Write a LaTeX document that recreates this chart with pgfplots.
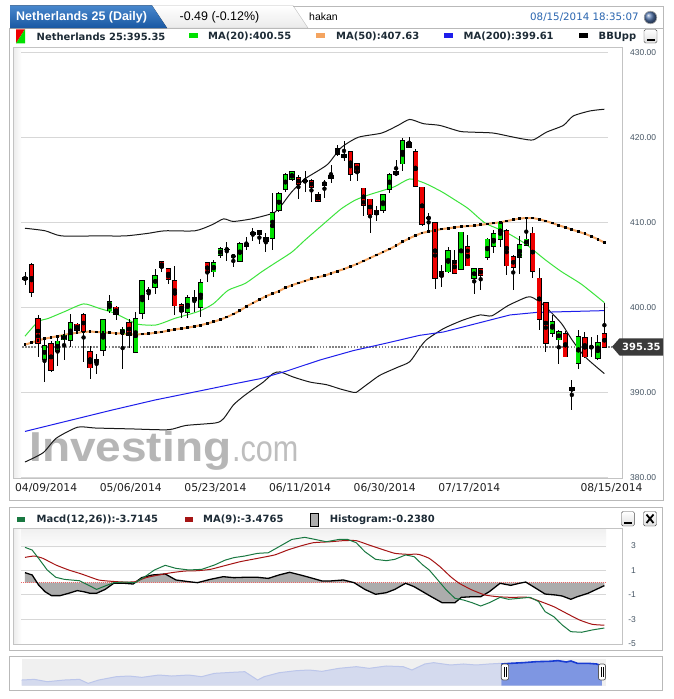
\documentclass[border=0pt]{standalone}
\usepackage{fontspec}
\setmainfont{DejaVu Sans}
\newfontfamily\lib{Liberation Sans}
\usepackage{pgfplots}
\usepackage{pgfplotstable}
\pgfplotsset{compat=1.18}
\definecolor{cgreen}{RGB}{0,225,0}
\definecolor{cred}{RGB}{238,0,0}
\definecolor{ma20}{RGB}{60,228,60}
\definecolor{ma50}{RGB}{244,164,96}
\definecolor{ma200}{RGB}{30,30,235}
\definecolor{bbc}{RGB}{25,25,25}
\definecolor{gridc}{RGB}{215,215,215}
\definecolor{framec}{RGB}{195,195,195}
\definecolor{panelc}{RGB}{185,185,185}
\definecolor{lbl}{RGB}{29,43,54}
\definecolor{tickc}{RGB}{70,85,100}
\definecolor{tabT}{RGB}{72,135,205}
\definecolor{tabB}{RGB}{25,88,162}
\definecolor{timec}{RGB}{40,100,175}
\definecolor{tagc}{RGB}{58,58,58}
\definecolor{dotc}{RGB}{130,130,130}
\definecolor{wm}{RGB}{182,182,182}
\definecolor{wmb}{RGB}{190,190,190}
\definecolor{macdc}{RGB}{25,120,65}
\definecolor{sigc}{RGB}{165,20,20}
\definecolor{histc}{RGB}{172,172,172}
\definecolor{zeroc}{RGB}{235,100,100}
\definecolor{navbg}{RGB}{240,240,240}
\definecolor{navfill}{RGB}{212,218,238}
\definecolor{navline}{RGB}{188,198,234}
\definecolor{selfill}{RGB}{126,150,226}
\definecolor{selline}{RGB}{25,60,210}
\definecolor{globe}{RGB}{80,115,170}

\pgfplotstableread{
i o h l c
0 403.3 404.1 402.6 403.5
1 405.0 405.2 401.2 401.8
2 398.6 399.1 394.1 395.8
3 393.9 396.2 391.2 395.5
4 395.7 396.0 392.4 392.6
5 394.8 396.5 393.1 396.0
6 396.2 397.3 393.8 396.7
7 396.1 399.2 395.3 398.2
8 398.0 398.2 396.9 397.3
9 399.1 399.3 393.6 397.2
10 394.8 395.5 391.6 392.9
11 393.5 394.5 392.2 393.8
12 395.0 398.6 394.3 398.5
13 399.6 401.4 399.3 400.6
14 400.0 400.2 398.5 399.2
15 396.9 397.7 392.7 397.4
16 398.2 398.6 395.2 396.7
17 394.7 399.4 394.7 398.6
18 399.3 403.1 398.6 403.1
19 401.9 402.4 400.9 401.9
20 402.4 404.5 401.6 403.7
21 405.3 405.4 404.1 404.7
22 404.5 404.5 402.8 403.3
23 403.1 404.9 399.1 400.2
24 400.3 400.5 398.7 399.5
25 399.4 401.4 398.7 401.1
26 401.1 402.0 399.5 400.8
27 400.0 403.3 398.9 402.9
28 405.2 405.2 403.0 404.1
29 404.2 405.6 403.6 405.2
30 406.1 407.1 405.8 406.9
31 406.8 407.7 405.5 406.8
32 406.0 406.2 404.7 406.0
33 405.4 407.7 405.4 407.5
34 407.5 408.3 406.7 407.2
35 408.6 409.3 407.8 408.8
36 409.0 409.0 407.4 408.6
37 407.8 408.8 406.5 408.2
38 408.1 413.4 406.7 411.1
39 411.4 413.6 411.2 413.3
40 413.9 415.8 413.6 415.6
41 415.1 416.0 414.8 415.9
42 415.2 415.6 412.7 414.5
43 414.9 416.0 413.6 414.9
44 414.9 415.1 412.4 414.1
45 413.2 413.6 412.4 412.5
46 414.4 415.0 412.9 414.7
47 415.2 416.7 414.6 415.5
48 418.6 419.1 417.8 418.0
49 417.6 419.6 417.2 418.0
50 418.3 418.3 414.9 415.7
51 416.9 417.0 414.8 415.9
52 414.0 414.0 410.7 412.0
53 412.7 412.7 408.7 410.9
54 411.4 411.9 410.2 410.9
55 411.4 413.2 411.1 413.2
56 413.9 415.8 413.5 415.6
57 415.6 417.3 415.4 415.9
58 416.9 419.9 416.0 419.6
59 419.4 420.0 418.7 418.8
60 418.3 418.6 414.2 414.3
61 414.1 414.2 409.6 409.8
62 410.5 411.1 408.9 410.5
63 409.9 410.0 402.2 403.4
64 404.2 405.0 402.4 403.6
65 404.2 407.1 404.0 406.6
66 405.5 406.7 403.9 404.0
67 404.5 408.8 404.4 408.8
68 407.1 408.5 404.8 404.9
69 403.4 404.5 401.6 404.5
70 404.5 404.6 402.0 403.8
71 405.9 408.1 405.6 408.0
72 407.2 409.1 406.4 408.6
73 408.0 410.2 407.1 410.0
74 409.0 409.2 403.8 404.9
75 405.9 406.2 402.0 404.7
76 405.9 408.4 403.9 407.3
77 407.3 410.6 407.2 408.0
78 408.7 409.5 403.5 404.3
79 403.4 404.6 397.3 398.6
80 400.5 400.5 394.7 395.8
81 397.0 399.1 396.5 398.3
82 396.2 397.3 393.3 397.1
83 396.9 397.2 394.1 394.2
84 390.5 391.5 387.9 390.2
85 393.4 397.3 392.8 396.5
86 396.4 397.1 394.0 394.2
87 395.3 396.5 394.2 395.3
88 394.0 396.7 393.8 395.8
89 396.9 400.5 395.3 395.35
}\candles

\begin{document}
\begin{tikzpicture}
\fill[white] (0,0) rectangle (674bp,-699bp);
\begin{scope}[x=1bp,y=-1bp]
% ---------- header ----------
\draw[draw=panelc, top color=white, bottom color=gray!16] (150,5.5) -- (293,5.5) -- (308,28) -- (165,28) -- cycle;
\draw[panelc, line width=0.8bp] (293,6) -- (663,6) -- (663,28);
\draw[panelc, line width=0.8bp] (9.5,28) rectangle (663,500);
\fill[top color=tabT, bottom color=tabB] (10,28) -- (10,5.5) -- (152,5.5) -- (167,28) -- cycle;
\node[anchor=west, inner sep=0, text=white, font=\lib\bfseries\fontsize{12.5}{14}\selectfont] at (16,17) {Netherlands 25 (Daily)};
\node[anchor=west, inner sep=0, text=black, font=\lib\fontsize{12.5}{14}\selectfont] at (179.5,17) {-0.49 (-0.12\%)};
\node[anchor=west, inner sep=0, text=black, font=\lib\fontsize{10.5}{12}\selectfont] at (309,17) {hakan};
\node[anchor=west, inner sep=0, text=timec, font=\fontsize{10.3}{12}\selectfont] at (530,17) {08/15/2014 18:35:07};
\shade[ball color=globe] (650.5,17.5) circle (6.3);
\draw[gray!70, line width=0.6bp] (650.5,17.5) circle (6.3);
% ---------- legend row ----------
\fill[cred] (16,29.3) -- (25,29.3) -- (16,43.3) -- cycle;
\fill[cgreen] (25,29.3) -- (25,43.3) -- (16,43.3) -- cycle;
\node[anchor=west, inner sep=0, text=lbl, font=\bfseries\fontsize{10}{12}\selectfont] at (36.5,36.5) {Netherlands 25:395.35};
\fill[cgreen] (189,33.3) rectangle (197.5,37.8);
\node[anchor=west, inner sep=0, text=lbl, font=\bfseries\fontsize{10}{12}\selectfont] at (208,36.5) {MA(20):400.55};
\fill[ma50] (316,33.3) rectangle (324.5,37.8);
\node[anchor=west, inner sep=0, text=lbl, font=\bfseries\fontsize{10}{12}\selectfont] at (336,36.5) {MA(50):407.63};
\fill[ma200] (444,33.3) rectangle (452.5,37.8);
\node[anchor=west, inner sep=0, text=lbl, font=\bfseries\fontsize{10}{12}\selectfont] at (463.5,36.5) {MA(200):399.61};
\fill[black] (579,33.3) rectangle (587.5,37.8);
\node[anchor=west, inner sep=0, text=lbl, font=\bfseries\fontsize{10}{12}\selectfont] at (598.5,36.5) {BBUpp};
\draw[gray!60!black, top color=white, bottom color=gray!25, rounded corners=1.5bp] (644,29.5) rectangle (657,43);
\fill[black] (646.5,38.8) rectangle (654.5,41);
% ---------- main plot background ----------
\fill[white] (13,47) rectangle (622,478);
\shade[left color=gray!15, right color=white] (13.4,47.4) rectangle (21.5,477.6);
\node[anchor=base west, inner sep=0, text=wm, font=\lib\bfseries\fontsize{42}{42}\selectfont, xscale=1.1] at (29,461.7) {Investing};
\node[anchor=base west, inner sep=0, text=wmb, font=\lib\fontsize{37}{37}\selectfont, xscale=0.83] at (232,461.7) {.com};
% ---------- MACD panel ----------
\draw[panelc, line width=0.8bp] (9.5,507.3) rectangle (662,650.7);
\fill[macdc] (17,517.3) rectangle (25,521.5);
\node[anchor=west, inner sep=0, text=lbl, font=\bfseries\fontsize{10}{12}\selectfont] at (36.5,519.5) {Macd(12,26)):-3.7145};
\fill[sigc] (184.5,517.3) rectangle (192.5,521.5);
\node[anchor=west, inner sep=0, text=lbl, font=\bfseries\fontsize{10}{12}\selectfont] at (203,519.5) {MA(9):-3.4765};
\draw[black, fill=histc, line width=0.8bp] (310.5,513) rectangle (318.5,526);
\node[anchor=west, inner sep=0, text=lbl, font=\bfseries\fontsize{10}{12}\selectfont] at (329.6,519.5) {Histogram:-0.2380};
\draw[gray!60!black, top color=white, bottom color=gray!25, rounded corners=1.5bp] (621.5,511.5) rectangle (634.3,526);
\fill[black] (624,521.8) rectangle (632,524);
\draw[gray!60!black, top color=white, bottom color=gray!25, rounded corners=1.5bp] (643.5,511.5) rectangle (656.5,526);
\draw[black, line width=1.8bp] (646.5,514.5) -- (653.5,523) (653.5,514.5) -- (646.5,523);
\fill[white] (13,528.3) rectangle (621.5,644);
\shade[left color=gray!15, right color=white] (13.4,528.7) rectangle (21.5,643.6);
\shade[top color=gray!12, bottom color=white] (21.5,528.7) rectangle (606,550);
% ---------- navigator panel ----------
\draw[panelc, line width=0.8bp] (9.5,656) rectangle (662,690.7);
\fill[navbg] (21.5,659.3) rectangle (606,685.7);
\end{scope}

% ================= MAIN AXIS =================
\begin{axis}[at={(13bp,-478bp)}, anchor=south west, scale only axis,
  width=609bp, height=431bp,
  xmin=-1.843, xmax=91.705, ymin=379.92, ymax=430.62,
  axis line style={draw=framec, line width=0.8bp},
  major tick length=0pt, tick style={draw=none},
  xtick={3.25,16.25,29.25,42.25,55.25,68.25,90.1},
  xticklabels={04/09/2014,05/06/2014,05/23/2014,06/11/2014,06/30/2014,07/17/2014,08/15/2014},
  xticklabel style={inner sep=0pt, anchor=north, yshift=-5bp, text=black!88, font=\fontsize{10.8}{12}\selectfont},
  ytick={380,390,400,410,420,430},
  yticklabels={380.00,390.00,400.00,410.00,420.00,430.00},
  yticklabel pos=right,
  yticklabel style={inner sep=0pt, anchor=west, xshift=8bp, text=tickc, font=\lib\fontsize{8.5}{10}\selectfont},
]
\draw[gridc, line width=0.9bp] (axis cs:-0.54,380) -- (axis cs:89.55,380);
\draw[gridc, line width=0.9bp] (axis cs:-0.54,390) -- (axis cs:89.55,390);
\draw[gridc, line width=0.9bp] (axis cs:-0.54,400) -- (axis cs:89.55,400);
\draw[gridc, line width=0.9bp] (axis cs:-0.54,410) -- (axis cs:89.55,410);
\draw[gridc, line width=0.9bp] (axis cs:-0.54,420) -- (axis cs:89.55,420);
\draw[gridc, line width=0.9bp] (axis cs:-0.54,430) -- (axis cs:89.55,430);
% last price dotted line
\addplot[dotc, line width=1.6bp, dash pattern=on 1.6bp off 1.5bp] coordinates {(-0.46,395.35) (90.2,395.35)};
% Bollinger upper
\addplot[bbc, line width=1bp, smooth, tension=0.4] coordinates {
(0,409.3) (3.1,409.0) (5.6,408.4) (11.3,408.4) (15.4,408.4) (18.9,408.7) (21.5,409.0) (26.1,409.0) (28.7,409.7) (30.5,410.4) (32.0,410.1) (34.8,410.4) (37.4,410.9) (38.4,411.2) (39.4,412.0) (41.0,413.6) (43.0,415.1) (45.1,416.1) (46.6,416.9) (48.6,418.8) (51.2,420.0) (54.8,420.5) (57.3,421.4) (59.1,422.1) (61.2,421.6) (63.7,421.4) (66.8,420.7) (68.9,420.6) (71.9,420.5) (74.5,420.1) (76.5,419.8) (78.1,419.7) (80.1,420.6) (82.7,421.4) (84.2,422.5) (86.8,423.1) (89,423.3)};
% Bollinger lower
\addplot[bbc, line width=1bp, smooth, tension=0.4] coordinates {
(0,381.8) (2.8,382.9) (4.8,384.6) (8.1,385.9) (10.8,385.8) (16.1,385.7) (22.0,385.6) (24.7,386.1) (29.3,386.4) (30.5,386.9) (32.0,388.5) (33.5,389.5) (35.1,390.4) (36.6,391.2) (38.1,392.2) (39.2,392.4) (41.2,391.8) (43.8,391.2) (46.3,390.9) (48.4,390.4) (50.4,390.0) (50.9,390.0) (52.5,390.9) (54.5,392.0) (57.1,392.9) (59.1,393.6) (60.6,395.2) (61.7,396.2) (64.3,397.5) (67.3,398.5) (69.9,399.1) (71.7,399.0) (74.2,400.2) (77.1,401.2) (78.1,401.1) (79.9,400.1) (82.4,398.1) (84.0,396.2) (86.0,394.2) (89,392.2)};
% MA(200)
\addplot[ma200, line width=1bp] coordinates {
(0,385.4) (13.3,387.9) (20,389.1) (29,390.5) (31.5,390.9) (36.1,391.6) (40.2,392.5) (45.3,393.8) (50.4,394.9) (55.6,395.8) (60.6,396.7) (64.3,397.1) (69.4,398.1) (74.5,399.1) (78.6,399.4) (89,399.61)};
% MA(20)
\addplot[ma20, line width=1bp, smooth, tension=0.4] coordinates {
(0,396.6) (2,398.3) (3.6,398.7) (6.1,399.5) (9,400.4) (11.3,399.9) (13.8,399.3) (15.9,398.5) (17.4,398.0) (20,397.9) (22,398.4) (23,398.7) (26.6,399.5) (28.9,400.4) (31.2,402.0) (33.8,402.8) (36.4,404.2) (38.4,405.2) (41,406.5) (43,407.9) (45.1,409.3) (46.6,410.3) (48.6,411.6) (50.7,412.6) (52.7,413.2) (54.8,413.7) (56.8,414.2) (59.1,415.1) (61.4,414.6) (64,413.6) (66.1,412.6) (68.1,411.6) (70.7,409.9) (73.7,408.9) (76.8,407.5) (79.9,405.6) (82.4,404.2) (85.5,402.7) (89,400.55)};
% MA(50)
\addplot[ma50, line width=2bp, mark=square*, mark size=0.85bp, mark options={fill=black, draw=black, line width=0pt}] coordinates {
(0,395.6) (1,395.85) (2,396.1) (3,396.3) (4,396.45) (5,396.6) (6,396.75) (7,396.9) (8,397.0) (9,397.1)
(10,397.15) (11,397.1) (12,397.05) (13,397.0) (14,396.95) (15,396.9) (16,396.85) (17,396.8) (18,396.85) (19,396.9)
(20,397.0) (21,397.1) (22,397.25) (23,397.4) (24,397.5) (25,397.6) (26,397.75) (27,397.9) (28,398.1) (29,398.3)
(30,398.55) (31,398.85) (32,399.2) (33,399.6) (34,400.1) (35,400.5) (36,400.9) (37,401.3) (38,401.6) (39,401.9)
(40,402.3) (41,402.6) (42,402.85) (43,403.1) (44,403.35) (45,403.55) (46,403.7) (47,404.0) (48,404.25) (49,404.5)
(50,404.8) (51,405.1) (52,405.45) (53,405.8) (54,406.15) (55,406.5) (56,406.85) (57,407.25) (58,407.7) (59,408.1)
(60,408.45) (61,408.75) (62,408.9) (63,409.05) (64,409.2) (65,409.3) (66,409.4) (67,409.5) (68,409.55) (69,409.6)
(70,409.7) (71,409.8) (72,409.9) (73,410.0) (74,410.15) (75,410.3) (76,410.45) (77,410.5) (78,410.5) (79,410.35)
(80,410.15) (81,409.9) (82,409.65) (83,409.4) (84,409.15) (85,408.9) (86,408.65) (87,408.35) (88,408.0) (89,407.63)};
% candles: wicks
\addplot[only marks, mark=none, forget plot, error bars/.cd, y dir=both, y explicit, error mark=none,
  error bar style={draw=black, line width=0.8bp, solid}]
  table[x=i, y expr={(\thisrow{h}+\thisrow{l})/2}, y error expr={(\thisrow{h}-\thisrow{l})/2}] {\candles};
% body outlines
\addplot[only marks, mark=none, forget plot, error bars/.cd, y dir=both, y explicit, error mark=none,
  error bar style={draw=black, line width=5.4bp, solid}]
  table[x=i, y expr={(\thisrow{o}+\thisrow{c})/2}, y error expr={abs(\thisrow{c}-\thisrow{o})/2+0.09}] {\candles};
% green bodies
\addplot[only marks, mark=none, forget plot, error bars/.cd, y dir=both, y explicit, error mark=none,
  error bar style={draw=cgreen, line width=3.8bp, solid}]
  table[x=i, y expr={(\thisrow{o}+\thisrow{c})/2}, y error expr={max(\thisrow{c}-\thisrow{o},0)/2}] {\candles};
% red bodies
\addplot[only marks, mark=none, forget plot, error bars/.cd, y dir=both, y explicit, error mark=none,
  error bar style={draw=cred, line width=3.8bp, solid}]
  table[x=i, y expr={(\thisrow{o}+\thisrow{c})/2}, y error expr={max(\thisrow{o}-\thisrow{c},0)/2}] {\candles};
\end{axis}

% ================= MACD AXIS =================
\begin{axis}[at={(13bp,-644bp)}, anchor=south west, scale only axis,
  width=609bp, height=115.7bp,
  xmin=-1.843, xmax=91.705, ymin=-5.02, ymax=4.45,
  axis line style={draw=framec, line width=0.8bp},
  major tick length=0pt, tick style={draw=none},
  xtick=\empty,
  ytick={3,1,-1,-3,-5}, yticklabels={3,1,-1,-3,-5},
  yticklabel pos=right,
  yticklabel style={inner sep=0pt, anchor=east, xshift=14bp, text=tickc, font=\lib\fontsize{8.5}{10}\selectfont},
]
\draw[gridc, line width=0.9bp] (axis cs:-0.54,3) -- (axis cs:89.3,3);
\draw[gridc, line width=0.9bp] (axis cs:-0.54,1) -- (axis cs:89.3,1);
\draw[gridc, line width=0.9bp] (axis cs:-0.54,-1) -- (axis cs:89.3,-1);
\draw[gridc, line width=0.9bp] (axis cs:-0.54,-3) -- (axis cs:89.3,-3);
\addplot[fill=histc, draw=none, forget plot] coordinates {
(0,0.82) (1.1,0.63) (2.09,-0.19) (3.08,-0.74) (4.07,-1.06) (5.39,-1.06) (6.71,-0.87) (8.03,-0.65) (9.02,-0.74) (10.0,-0.87) (10.99,-0.87) (12.31,-0.55) (13.63,-0.05) (15.28,-0.05) (16.6,-0.11) (17.92,0.41) (19.56,0.63) (21.54,0.71) (23.19,0.22) (25.17,0.08) (26.49,0.0) (28.46,0.27) (30.44,0.49) (32.09,0.41) (33.74,0.44) (35.72,0.44) (37.37,0.35) (39.01,0.63) (40.66,0.85) (42.31,0.63) (43.63,0.44) (45.61,0.14) (46.92,0.14) (48.9,0.22) (50.55,0.0) (52.2,-0.55) (53.85,-0.95) (55.5,-0.82) (56.81,-0.55) (58.46,-0.05) (59.78,-0.33) (61.1,-0.74) (62.42,-1.15) (64.07,-1.64) (66.04,-1.64) (67.03,-1.20) (68.68,-1.15) (70.0,-1.15) (71.32,-0.74) (72.97,-0.05) (74.61,-0.22) (75.93,-0.05) (76.92,0.05) (78.24,-0.38) (79.89,-0.93) (81.54,-1.01) (82.52,-1.09) (83.84,-1.36) (84.83,-1.15) (86.48,-0.87) (89,-0.24)} \closedcycle;
\addplot[zeroc, line width=1bp, dash pattern=on 1bp off 1bp] coordinates {(-0.54,0) (89.3,0)};
\addplot[black, line width=1.3bp] coordinates {
(0,0.82) (1.1,0.63) (2.09,-0.19) (3.08,-0.74) (4.07,-1.06) (5.39,-1.06) (6.71,-0.87) (8.03,-0.65) (9.02,-0.74) (10.0,-0.87) (10.99,-0.87) (12.31,-0.55) (13.63,-0.05) (15.28,-0.05) (16.6,-0.11) (17.92,0.41) (19.56,0.63) (21.54,0.71) (23.19,0.22) (25.17,0.08) (26.49,0.0) (28.46,0.27) (30.44,0.49) (32.09,0.41) (33.74,0.44) (35.72,0.44) (37.37,0.35) (39.01,0.63) (40.66,0.85) (42.31,0.63) (43.63,0.44) (45.61,0.14) (46.92,0.14) (48.9,0.22) (50.55,0.0) (52.2,-0.55) (53.85,-0.95) (55.5,-0.82) (56.81,-0.55) (58.46,-0.05) (59.78,-0.33) (61.1,-0.74) (62.42,-1.15) (64.07,-1.64) (66.04,-1.64) (67.03,-1.20) (68.68,-1.15) (70.0,-1.15) (71.32,-0.74) (72.97,-0.05) (74.61,-0.22) (75.93,-0.05) (76.92,0.05) (78.24,-0.38) (79.89,-0.93) (81.54,-1.01) (82.52,-1.09) (83.84,-1.36) (84.83,-1.15) (86.48,-0.87) (89,-0.24)};
\addplot[sigc, line width=1bp, smooth, tension=0.3] coordinates {
(0,2.07) (1.43,2.18) (2.75,1.99) (4.73,1.45) (6.71,1.04) (8.69,0.71) (11.32,0.22) (13.3,0.11) (15.28,0.05) (16.93,0.08) (18.58,0.41) (20.55,0.63) (22.53,0.82) (24.51,0.95) (26.49,0.98) (28.46,1.09) (30.44,1.36) (33.08,1.72) (35.72,1.99) (38.35,2.27) (40.33,2.67) (42.31,3.00) (44.29,3.27) (46.92,3.35) (48.9,3.44) (50.88,3.44) (52.86,3.08) (54.84,2.73) (56.81,2.40) (58.79,2.32) (60.44,2.32) (62.09,1.99) (63.74,1.31) (65.38,0.49) (66.7,-0.05) (68.68,-0.60) (70.66,-1.01) (72.64,-1.15) (74.61,-1.20) (77.25,-1.20) (79.23,-1.55) (81.21,-1.96) (83.18,-2.51) (85.16,-3.05) (87.14,-3.41) (89,-3.48)};
\addplot[macdc, line width=1bp] coordinates {
(0,2.89) (1.1,2.67) (2.09,1.99) (3.41,1.04) (4.73,0.44) (6.05,0.27) (8.36,0.16) (9.68,-0.19) (10.99,-0.55) (12.31,-0.27) (13.63,0.0) (15.28,0.05) (16.93,0.0) (18.58,0.55) (19.89,1.04) (21.54,1.42) (23.19,1.17) (25.17,1.04) (27.15,1.09) (29.12,1.45) (30.77,1.85) (32.09,2.05) (33.74,2.18) (35.72,2.40) (37.37,2.45) (39.01,2.94) (40.99,3.54) (42.97,3.71) (44.29,3.57) (46.27,3.35) (48.24,3.54) (49.56,3.54) (50.88,3.27) (52.20,2.54) (53.85,1.91) (55.50,1.80) (56.81,1.91) (58.46,2.27) (59.78,2.13) (61.10,1.45) (62.09,1.04) (63.41,0.22) (64.72,-0.60) (66.04,-1.28) (67.36,-1.42) (68.68,-1.64) (70.00,-1.91) (71.32,-1.64) (72.97,-1.20) (74.29,-1.36) (75.93,-1.28) (77.58,-1.20) (78.90,-1.55) (79.89,-2.37) (81.21,-2.78) (82.52,-3.46) (83.84,-4.01) (85.49,-4.06) (87.14,-3.87) (89,-3.71)};
\end{axis}

% ================= NAVIGATOR =================
\begin{axis}[at={(21.5bp,-685.7bp)}, anchor=south west, scale only axis,
  width=584.5bp, height=26.4bp, hide axis,
  xmin=0, xmax=100, ymin=0, ymax=79]
\addplot[fill=navfill, draw=none] coordinates {
(0,17) (2.2,19) (4.4,12) (7.3,17) (9.9,19) (11.4,7) (13.2,17) (16.2,27) (18.4,29) (20.6,25) (23.5,32) (25.7,29) (28.6,32) (30.8,27) (33.0,37) (36.0,40) (38.2,42) (40.4,17) (41.5,27) (44.1,39) (47.0,45) (49.2,47) (51.4,43) (54.3,52) (57.3,57) (59.5,52) (62.4,59) (65.3,57) (66.8,47) (69.0,65) (70.5,69) (73.4,62) (75.6,65) (77.8,62) (80.0,65) (82.1,67)} \closedcycle;
\addplot[navline, line width=1bp] coordinates {
(0,17) (2.2,19) (4.4,12) (7.3,17) (9.9,19) (11.4,7) (13.2,17) (16.2,27) (18.4,29) (20.6,25) (23.5,32) (25.7,29) (28.6,32) (30.8,27) (33.0,37) (36.0,40) (38.2,42) (40.4,17) (41.5,27) (44.1,39) (47.0,45) (49.2,47) (51.4,43) (54.3,52) (57.3,57) (59.5,52) (62.4,59) (65.3,57) (66.8,47) (69.0,65) (70.5,69) (73.4,62) (75.6,65) (77.8,62) (80.0,65) (82.1,67)};
\addplot[fill=selfill, draw=none] coordinates {
(82.1,65) (83.7,67) (85.9,69) (88.1,72) (90.3,73) (91.8,75) (93.2,71) (94.0,74) (95.1,67) (96.9,67) (98.4,65) (99.3,59)} \closedcycle;
\addplot[selline, line width=1.6bp] coordinates {
(82.1,65) (83.7,67) (85.9,69) (88.1,72) (90.3,73) (91.8,75) (93.2,71) (94.0,74) (95.1,67) (96.9,67) (98.4,65) (99.3,59)};
\end{axis}

\begin{scope}[x=1bp,y=-1bp]
% price tag
\fill[tagc] (612,346.8) -- (619.5,338.3) -- (663,338.3) -- (663,355.5) -- (619.5,355.5) -- cycle;
\node[anchor=west, inner sep=0, text=white, font=\bfseries\fontsize{10}{12}\selectfont] at (622,347.2) {395.35};
% navigator handles
\draw[gray!70!black, fill=white, rounded corners=2bp, line width=0.7bp] (501.3,664) rectangle (508.6,680);
\draw[black, line width=0.7bp] (504,667) -- (504,677) (506,667) -- (506,677);
\draw[gray!70!black, fill=white, rounded corners=2bp, line width=0.7bp] (598.5,664) rectangle (605.5,680);
\draw[black, line width=0.7bp] (601,667) -- (601,677) (603,667) -- (603,677);
\end{scope}
\end{tikzpicture}
\end{document}
